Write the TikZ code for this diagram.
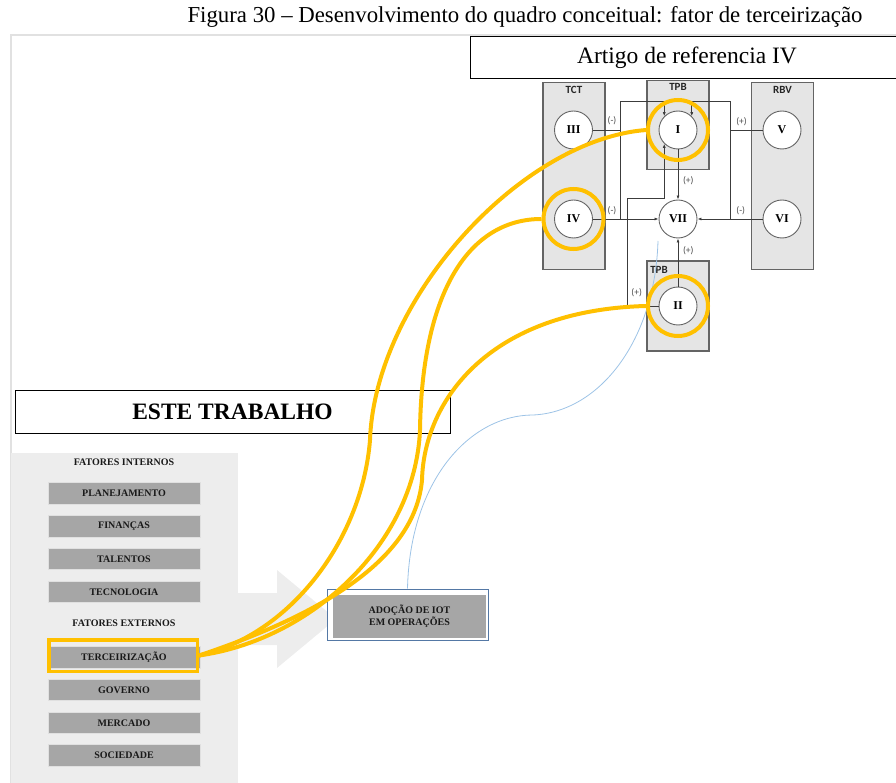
\documentclass[tikz,border=0pt]{standalone}
\usepackage{fontspec}
\setmainfont{Liberation Serif}
\newfontfamily\diagramfont{Carlito}
\usetikzlibrary{positioning, arrows.meta}
\definecolor{markyellow}{RGB}{255,192,0}
\definecolor{itemgray}{RGB}{166,166,166}
\definecolor{panelgray}{RGB}{237,237,237}
\definecolor{theorygray}{RGB}{229,229,229}
\definecolor{edgegray}{RGB}{100,100,100}
\definecolor{linegray}{RGB}{60,60,60}
\definecolor{iotblue}{RGB}{84,120,165}
\definecolor{linkblue}{RGB}{157,195,230}
\definecolor{framegray}{RGB}{225,225,225}

\tikzset{
  itembox/.style={fill=itemgray, draw=black!12, line width=0.8pt, minimum width=152pt, minimum height=21.5pt, inner sep=0pt, font=\fontsize{10}{11}\selectfont\bfseries, text=black!90},
  grouptitle/.style={font=\fontsize{10}{11}\selectfont\bfseries, text=black!90, inner sep=0pt},
  theorybox/.style={fill=theorygray, draw=edgegray, line width=1.1pt, inner sep=0pt},
  theorylabel/.style={font=\diagramfont\fontsize{11}{11}\selectfont\bfseries, text=black!85, inner sep=0pt},
  construct/.style={circle, fill=white, draw=edgegray, line width=0.9pt, minimum size=38pt, inner sep=0pt, font=\fontsize{12}{12}\selectfont\bfseries},
  signlabel/.style={font=\diagramfont\fontsize{9.5}{10}\selectfont, text=black!70, inner sep=0pt},
  conn/.style={draw=linegray, line width=0.8pt},
  tip/.style={-{Latex[length=4pt, width=3pt]}},
  ring/.style={circle, draw=markyellow, line width=4pt, minimum size=60pt, inner sep=0pt},
  yellowlink/.style={draw=markyellow, line width=4pt},
}

\begin{document}
\begin{tikzpicture}[x=1pt, y=-1pt]
  \useasboundingbox (0,0) rectangle (896,783);

  % Caption
  \node[font=\fontsize{22.8}{24}\selectfont] (caption) at (525,16.5) {Figura 30 – Desenvolvimento do quadro conceitual: fator de terceirização};

  % Frame and left panel with arrow
  \draw[framegray, line width=1.5pt] (11,800) -- (11,35) -- (900,35);
  \fill[panelgray] (11,453) rectangle (238,790);
  \fill[panelgray] (238,593) -- (277,593) -- (277,570) -- (336,619) -- (277,668) -- (277,645) -- (238,645) -- cycle;

  % Headers
  \node[draw, line width=1pt, minimum width=435pt, minimum height=43.5pt, font=\fontsize{23.5}{26}\selectfont\bfseries] (thiswork) at (232.5,412) {ESTE TRABALHO};
  \node[draw, line width=1pt, fill=white, minimum width=434pt, minimum height=42.5pt, font=\fontsize{23.5}{24}\selectfont] (refpaper) at (687,57.75) {Artigo de referencia IV};

  % Factors
  \node[grouptitle] (internal) at (124,462.5) {FATORES INTERNOS};
  \node[grouptitle] (external) at (124,623) {FATORES EXTERNOS};
  \foreach \itemtext/\itemname/\itemy in {PLANEJAMENTO/plan/493.5, FINANÇAS/fin/526.25, TALENTOS/tal/559, TECNOLOGIA/tec/591.75, TERCEIRIZAÇÃO/terc/657.25, GOVERNO/gov/690, MERCADO/merc/722.75, SOCIEDADE/soc/755.5}
    \node[itembox] (\itemname) at (124,\itemy) {\itemtext};

  % IoT adoption
  \node[draw=iotblue, line width=1pt, fill=white, minimum width=161pt, minimum height=51pt, inner sep=0pt] (iot) at (407.5,614.5) {};
  \node[fill=itemgray, minimum width=153pt, minimum height=43.5pt, inner sep=0pt, align=center, font=\fontsize{10}{10.5}\selectfont\bfseries, text=black!90] (iotfill) at (409.5,616.25) {ADOÇÃO DE IOT\\EM OPERAÇÕES};

  % Theory boxes
  \node[theorybox, minimum width=62pt, minimum height=187pt] (tct) at (574,175.6) {};
  \node[theorybox, minimum width=62pt, minimum height=89pt] (tpbtop) at (678,124.7) {};
  \node[theorybox, minimum width=62pt, minimum height=187pt] (rbv) at (782.5,175.6) {};
  \node[theorybox, minimum width=62pt, minimum height=90pt] (tpbbottom) at (678,306) {};
  \node[theorylabel] (tctlabel) at (574,90) {TCT};
  \node[theorylabel] (tpbtoplabel) at (678,87) {TPB};
  \node[theorylabel] (rbvlabel) at (782.5,90) {RBV};
  \node[theorylabel] (tpbbottomlabel) at (659,269.5) {TPB};

  % Constructs
  \node[construct] (III) at (573.5,130) {III};
  \node[construct] (I) at (678,130) {I};
  \node[construct] (V) at (782,130) {V};
  \node[construct] (IV) at (573.5,219) {IV};
  \node[construct] (VII) at (678,219) {VII};
  \node[construct] (VI) at (782,219) {VI};
  \node[construct] (II) at (678,306) {II};

  % Relations
  \coordinate (topleft) at (620.7,101);
  \coordinate (topright) at (730,101);
  \coordinate (feedback) at (627.7,198.3);
  \draw[conn] (III.east) -- (III.east -| topleft);
  \draw[conn] (topleft |- IV.east) -- (topleft) -- (topright) -- (topright |- VI.west);
  \draw[conn] (V.west) -- (V.west -| topright);
  \draw[conn, tip] (I.north west |- topleft) -- (I.north west);
  \draw[conn, tip] (I.north east |- topright) -- (I.north east);
  \draw[conn, tip] (IV.east) -- (VII.west);
  \draw[conn, tip] (VI.west) -- (VII.east);
  \draw[conn, tip] (I.south) -- (VII.north);
  \draw[conn, tip] (II.north) -- (VII.south);
  \draw[conn, tip] (II.west) -| (feedback) -| (I.south west);
  \node[signlabel] (signIII) at (612,121) {(-)};
  \node[signlabel] (signV) at (741.5,121.5) {(+)};
  \node[signlabel] (signIV) at (612,210.5) {(-)};
  \node[signlabel] (signVI) at (740.7,210.5) {(-)};
  \node[signlabel] (signI) at (688.3,180.3) {(+)};
  \node[signlabel] (signII) at (688.3,251) {(+)};
  \node[signlabel] (signloop) at (636.7,293) {(+)};

  % Link to IoT adoption
  \draw[linkblue, line width=0.8pt] (iot.north) .. controls (410,480) and (470,415) .. (533,415) .. controls (600,412) and (655,340) .. (658,241);

  % Highlights
  \node[ring] (ringI) at (I) {};
  \node[ring] (ringIV) at (IV) {};
  \node[ring] (ringII) at (II) {};
  \node[draw=markyellow, line width=3.5pt, minimum width=148.5pt, minimum height=31.5pt, inner sep=0pt] (tercmark) at (123,655.5) {};
  \draw[yellowlink] (tercmark.east) .. controls (290,635) and (362,540) .. (370,440) .. controls (375,300) and (520,140) .. (ringI.west);
  \draw[yellowlink] (tercmark.east) .. controls (310,640) and (415,545) .. (420,430) .. controls (422,290) and (470,219) .. (ringIV.west);
  \draw[yellowlink] (tercmark.east) .. controls (320,615) and (415,560) .. (422,480) .. controls (424,400) and (490,310) .. (ringII.west);
\end{tikzpicture}
\end{document}
